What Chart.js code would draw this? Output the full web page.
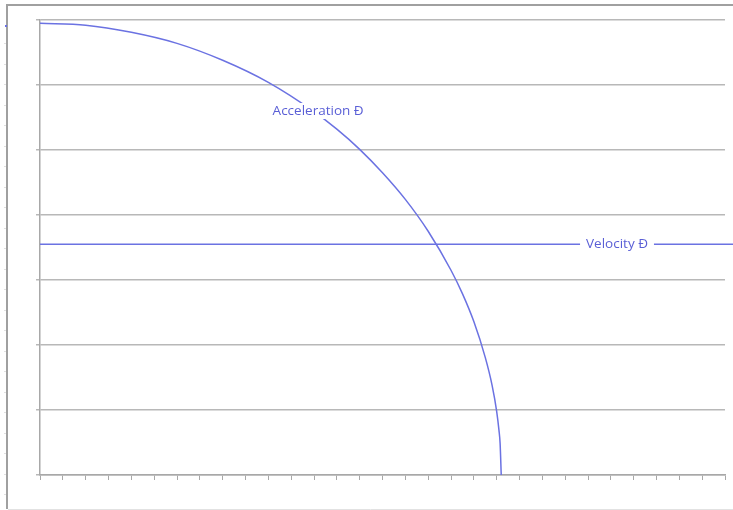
<!DOCTYPE html>
<html>
<head>
<meta charset="utf-8">
<script src="https://cdn.jsdelivr.net/npm/chart.js@4/dist/chart.umd.min.js"></script>
<style>
  html, body { margin: 0; padding: 0; background: #fff; }
  #wrap { width: 733px; height: 510px; }
</style>
</head>
<body>
<div id="wrap"><canvas id="chart" width="733" height="510"></canvas></div>
<script>
  // curve (x in tick units, y in gridline units)
  const accelX = [0, 2, 4, 6, 8, 10, 12, 13, 14, 15, 16, 17, 18, 18.5, 19, 19.5, 19.8, 20, 20.1, 20.15, 20.2];
  const accelY = [6.95, 6.92, 6.81, 6.64, 6.38, 6.04, 5.59, 5.32, 5.01, 4.65, 4.24, 3.75, 3.15, 2.79, 2.36, 1.81, 1.38, 0.98, 0.69, 0.49, 0];
  const velocityX = [0, 30.35];
  const velocityY = [3.55, 3.55];
  const seriesNames = ['Acceleration Đ', 'Velocity Đ'];
  const labelAt = [[12.18, 5.6], [25.27, 3.55]];

  const lineColor = '#6b72e2';
  const toPoints = (xs, ys) => xs.map((x, i) => ({ x: x, y: ys[i] }));

  // outer frame + inline series labels
  const decor = {
    id: 'decor',
    beforeDraw(chart) {
      const ctx = chart.ctx;
      ctx.save();
      ctx.fillStyle = '#fff';
      ctx.fillRect(0, 0, chart.width, chart.height);
      ctx.strokeStyle = '#a0a0a0';
      ctx.lineWidth = 2;
      ctx.beginPath();
      ctx.moveTo(7, 509);
      ctx.lineTo(7, 5);
      ctx.lineTo(733, 5);
      ctx.stroke();
      ctx.strokeStyle = '#e2e2e2';
      ctx.lineWidth = 1;
      ctx.beginPath();
      ctx.moveTo(8, 509.5);
      ctx.lineTo(733, 509.5);
      ctx.stroke();
      ctx.strokeStyle = '#e0e0e0';
      for (let y = 43; y < 500; y += 20.5) {
        ctx.beginPath();
        ctx.moveTo(4, Math.round(y) + 0.5);
        ctx.lineTo(6, Math.round(y) + 0.5);
        ctx.stroke();
      }
      ctx.fillStyle = lineColor;
      ctx.fillRect(5, 25, 2, 2);
      ctx.restore();
    },
    afterDatasetsDraw(chart) {
      const ctx = chart.ctx;
      const xs = chart.scales.x, ys = chart.scales.y;
      ctx.save();
      ctx.font = '13.5px "Open Sans"';
      ctx.textAlign = 'center';
      ctx.textBaseline = 'middle';
      seriesNames.forEach((name, i) => {
        const px = xs.getPixelForValue(labelAt[i][0]);
        const py = ys.getPixelForValue(labelAt[i][1]);
        const w = ctx.measureText(name).width;
        ctx.fillStyle = '#fff';
        ctx.fillRect(px - w / 2 - 6, py - 8, w + 12, 16);
        ctx.fillStyle = '#5a5fd6';
        ctx.fillText(name, px, py);
      });
      ctx.restore();
    }
  };

  new Chart(document.getElementById('chart').getContext('2d'), {
    type: 'scatter',
    data: {
      datasets: [
        {
          label: seriesNames[0],
          data: toPoints(accelX, accelY),
          showLine: true,
          borderColor: lineColor,
          borderWidth: 1.5,
          pointRadius: 0,
          cubicInterpolationMode: 'monotone',
          fill: false
        },
        {
          label: seriesNames[1],
          data: toPoints(velocityX, velocityY),
          showLine: true,
          borderColor: lineColor,
          borderWidth: 1.5,
          pointRadius: 0,
          clip: false,
          fill: false
        }
      ]
    },
    options: {
      responsive: false,
      animation: false,
      layout: { padding: { left: 40, top: 20, right: 8, bottom: 35 } },
      plugins: { legend: { display: false }, tooltip: { enabled: false } },
      scales: {
        x: {
          type: 'linear',
          min: 0,
          max: 30,
          afterFit: (s) => { s.height = 0; },
          ticks: { display: false, stepSize: 1 },
          grid: { drawOnChartArea: false, drawTicks: true, tickLength: 5, color: '#a8a8a8', lineWidth: 1 },
          border: { color: '#a8a8a8', width: 1.5 }
        },
        y: {
          min: 0,
          max: 7,
          afterFit: (s) => { s.width = 0; },
          ticks: { display: false, stepSize: 1 },
          grid: { drawTicks: true, tickLength: 4, color: '#b8b8b8', lineWidth: 1.5 },
          border: { color: '#a8a8a8', width: 1.5 }
        }
      }
    },
    plugins: [decor]
  });
</script>
</body>
</html>
